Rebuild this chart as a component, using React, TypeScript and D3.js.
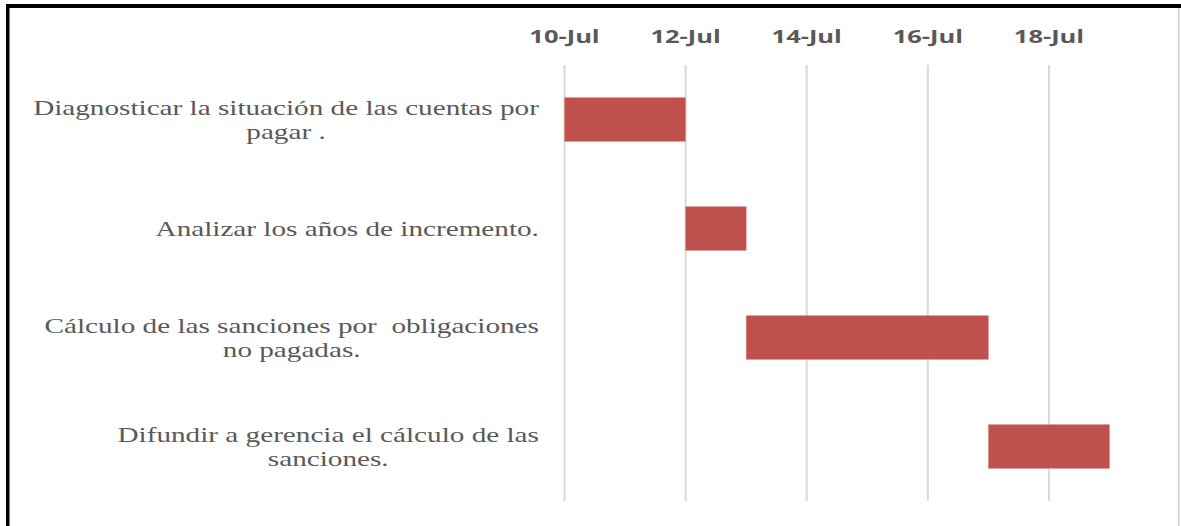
import React from "react";
import * as d3 from "d3";

const taskLines: string[][] = [
  ["Diagnosticar la situación de las cuentas por", "pagar ."],
  ["Analizar los años de incremento."],
  ["Cálculo de las sanciones por  obligaciones", "no pagadas."],
  ["Difundir a gerencia el cálculo de las", "sanciones."],
];
const startDates: string[] = ["2019-07-10", "2019-07-12", "2019-07-13", "2019-07-17"];
const endDates: string[] = ["2019-07-12", "2019-07-13", "2019-07-17", "2019-07-19"];
const tickDates: string[] = ["2019-07-10", "2019-07-12", "2019-07-14", "2019-07-16", "2019-07-18"];
const tickLabels: string[] = ["10-Jul", "12-Jul", "14-Jul", "16-Jul", "18-Jul"];

const W = 1181;
const H = 526;
const SX = 1.46; // horizontal stretch of the original picture
const LABEL_FONT = "'Liberation Serif', 'Times New Roman', serif";
const TICK_FONT = "'Open Sans', 'Liberation Sans', sans-serif";
const TEXT_COLOR = "#595959";
const BAR_COLOR = "#C0504D";

const parse = d3.timeParse("%Y-%m-%d");

let ctx: CanvasRenderingContext2D | null = null;
function measure(text: string, font: string): number {
  if (!ctx) {
    const c = document.createElement("canvas");
    ctx = c.getContext("2d");
  }
  if (!ctx) return text.length * 9;
  ctx.font = font;
  return ctx.measureText(text).width;
}

export default function App() {
  const ids = taskLines.map((_, i) => String(i));
  const x = d3
    .scaleTime()
    .domain([parse("2019-07-10") as Date, parse("2019-07-19") as Date])
    .range([564.5, 1109.5]);
  const y = d3.scaleBand<string>().domain(ids).range([65, 501]).paddingInner(0.6).paddingOuter(0.3);

  const labelRight = 539;
  const lineH = 24;

  return (
    <svg
      width={W}
      height={H}
      style={{ position: "absolute", left: 0, top: 0, background: "#fff" }}
    >
      <rect x={0} y={0} width={W} height={H} fill="#fff" />
      {/* gridlines */}
      {tickDates.map((d, i) => {
        const xx = x(parse(d) as Date);
        return (
          <g key={"g" + i}>
            <line x1={xx} x2={xx} y1={65} y2={501} stroke="#d9d9d9" strokeWidth={2} />
            <text
              transform={`translate(${xx},43) scale(${SX * 0.97},1)`}
              textAnchor="middle"
              fontFamily={TICK_FONT}
              fontWeight={700}
              fontSize={18}
              fill={TEXT_COLOR}
            >
              {tickLabels[i]}
            </text>
          </g>
        );
      })}
      {/* bars */}
      {ids.map((id, i) => {
        const x0 = x(parse(startDates[i]) as Date);
        const x1 = x(parse(endDates[i]) as Date);
        return (
          <rect
            key={"b" + i}
            x={x0}
            y={y(id)}
            width={x1 - x0}
            height={y.bandwidth()}
            fill={BAR_COLOR}
            stroke="#d98a88"
            strokeWidth={0.6}
          />
        );
      })}
      {/* category labels */}
      {ids.map((id, i) => {
        const lines = taskLines[i];
        const cy = (y(id) as number) + y.bandwidth() / 2;
        const widths = lines.map((l) => measure(l, `20px ${LABEL_FONT}`) * SX);
        const blockW = Math.max(...widths);
        const cx = labelRight - blockW / 2;
        const n = lines.length;
        return (
          <g key={"l" + i}>
            {lines.map((l, j) => {
              const by = cy + 7 + (j - (n - 1) / 2) * lineH;
              return (
                <text
                  key={j}
                  transform={`translate(${cx},${by}) scale(${SX},1)`}
                  textAnchor="middle"
                  fontFamily={LABEL_FONT}
                  fontSize={20}
                  fill={TEXT_COLOR}
                  style={{ whiteSpace: "pre" }}
                >
                  {l}
                </text>
              );
            })}
          </g>
        );
      })}
      {/* frame */}
      <rect x={6} y={4} width={W - 6} height={4} fill="#000" />
      <rect x={6} y={4} width={3.5} height={H - 4} fill="#000" />
      <rect x={1177.8} y={8} width={1.6} height={H - 8} fill="#cfcfcf" />
    </svg>
  );
}
